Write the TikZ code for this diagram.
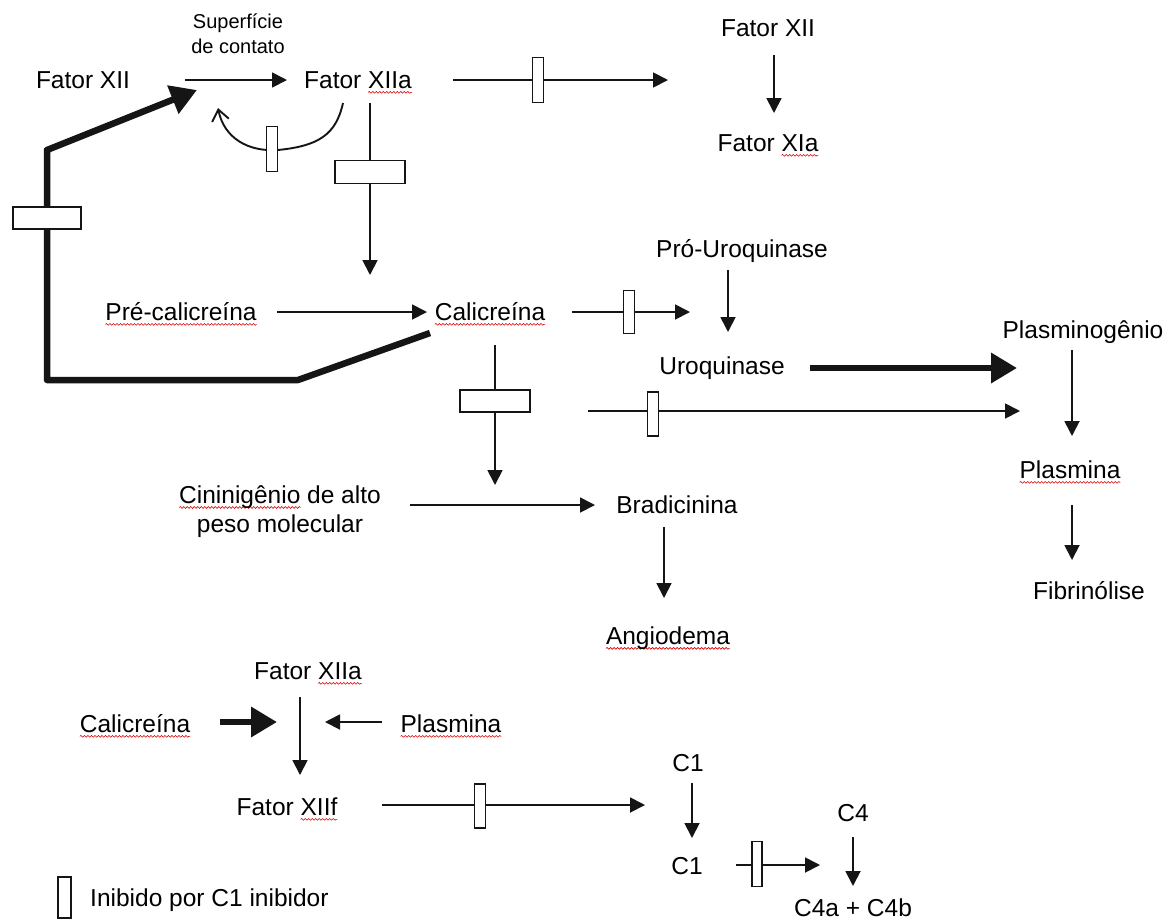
\documentclass[tikz,border=0pt]{standalone}
\usepackage{fontspec}
\setmainfont{Liberation Sans}
\usetikzlibrary{arrows.meta,decorations.pathmorphing}
\definecolor{ink}{HTML}{151515}
\newlength\wavylen
\newcommand{\wavy}[1]{\settowidth\wavylen{#1}\tikz[overlay,baseline=0pt]\draw[red!85!black,line width=0.6pt,decorate,decoration={snake,amplitude=0.9pt,segment length=3.5pt}] (0pt,-3.6pt) -- (\wavylen,-3.6pt);#1}
\tikzset{
  lbl/.style={inner sep=0pt, text height=17.5pt, text depth=0pt},
  arr/.style={draw=ink, line width=1.8pt, -{Triangle[length=15pt,width=15pt]}},
  thickarr/.style={draw=ink, line width=6.5pt, line join=round, -{Triangle[length=26pt,width=29pt]}},
  ln/.style={draw=ink, line width=1.9pt},
  inhv/.style={draw=ink, fill=white, line width=1.4pt, minimum width=11pt, minimum height=45pt, inner sep=0pt},
  inhh/.style={draw=ink, fill=white, line width=1.4pt, minimum width=70pt, minimum height=23pt, inner sep=0pt},
}
\begin{document}
\begin{tikzpicture}[x=1pt,y=-1pt,font=\fontsize{24.5}{29}\selectfont]
\useasboundingbox (0,0) rectangle (1175,922);
\fill[white] (0,0) rectangle (1175,922);

% ---------- text nodes ----------
\node[lbl] (fxii) at (83,80) {Fator XII};
\node[lbl] (fxiia) at (358,80) {Fator \wavy{XIIa}};
\node[align=center, inner sep=0pt, font=\fontsize{20}{25}\selectfont] (sup) at (238,34) {Superfície\\de contato};
\node[lbl] (fxii2) at (768,28) {Fator XII};
\node[lbl] (fxia) at (768,143) {Fator \wavy{XIa}};
\node[lbl] (pre) at (181,312) {\wavy{Pré-calicreína}};
\node[lbl] (cal) at (490,312) {\wavy{Calicreína}};
\node[lbl] (pro) at (742,249) {Pró-Uroquinase};
\node[lbl] (uro) at (722,366) {Uroquinase};
\node[lbl] (plg) at (1083,330) {Plasminogênio};
\node[lbl] (pla) at (1070,470) {\wavy{Plasmina}};
\node[lbl] (fib) at (1089,591) {Fibrinólise};
\node[align=center, inner sep=0pt] (cin) at (280,512) {\wavy{Cininigênio} de alto\\peso molecular};
\node[lbl] (bra) at (677,505) {Bradicinina};
\node[lbl] (ang) at (668,636) {\wavy{Angiodema}};
\node[lbl] (fxiia2) at (308,671) {Fator \wavy{XIIa}};
\node[lbl] (cal2) at (135,724) {\wavy{Calicreína}};
\node[lbl] (pla2) at (451,724) {\wavy{Plasmina}};
\node[lbl] (fxiif) at (287,807) {Fator \wavy{XIIf}};
\node[lbl] (c1a) at (688,763) {C1};
\node[lbl] (c1b) at (687,866) {C1};
\node[lbl] (c4) at (853,813) {C4};
\node[lbl] (c4ab) at (853,908) {C4a + C4b};
\node[lbl, anchor=west] (leg) at (90,898) {Inibido por C1 inibidor};

% ---------- connector ends ----------
\coordinate (a1s) at (185,80);   \coordinate (a1e) at (287,80);
\coordinate (a2s) at (343,103);  \coordinate (a2m) at (278,150); \coordinate (a2e) at (218,108);
\coordinate (a3s) at (370,103);  \coordinate (a3e) at (370,275);
\coordinate (a4s) at (453,80);   \coordinate (a4e) at (668,80);
\coordinate (a5s) at (774,55);   \coordinate (a5e) at (774,113);
\coordinate (t1) at (430,333); \coordinate (t2) at (298,380); \coordinate (t3) at (47,380);
\coordinate (t4) at (47,150); \coordinate (t5) at (197,90);
\coordinate (a7s) at (277,312);  \coordinate (a7e) at (427,312);
\coordinate (a8s) at (572,312);  \coordinate (a8e) at (690,312);
\coordinate (a9s) at (728,270);  \coordinate (a9e) at (728,332);
\coordinate (a10s) at (810,368); \coordinate (a10e) at (1017,368);
\coordinate (a11s) at (1072,350); \coordinate (a11e) at (1072,436);
\coordinate (a12s) at (1072,505); \coordinate (a12e) at (1072,560);
\coordinate (a13s) at (495,345); \coordinate (a13e) at (495,485);
\coordinate (a14s) at (588,411); \coordinate (a14e) at (1020,411);
\coordinate (a15s) at (410,505); \coordinate (a15e) at (595,505);
\coordinate (a16s) at (664,527); \coordinate (a16e) at (664,598);
\coordinate (a17s) at (300,697); \coordinate (a17e) at (300,775);
\coordinate (a18s) at (220,722); \coordinate (a18e) at (277,722);
\coordinate (a19s) at (382,722); \coordinate (a19e) at (325,722);
\coordinate (a20s) at (382,805); \coordinate (a20e) at (645,805);
\coordinate (a21s) at (692,783); \coordinate (a21e) at (692,838);
\coordinate (a22s) at (736,865); \coordinate (a22e) at (820,865);
\coordinate (a23s) at (853,837); \coordinate (a23e) at (853,886);

% ---------- connectors ----------
\draw[arr] (a1s) -- (a1e);
\draw[ln, -{Straight Barb[length=11pt,width=17pt,line width=1.9pt]}] (a2s) .. controls (336,135) and (318,146) .. (a2m) .. controls (248,152) and (224,138) .. (a2e);
\draw[arr] (a3s) -- (a3e);
\draw[arr] (a4s) -- (a4e);
\draw[arr] (a5s) -- (a5e);
\draw[thickarr] (t1) -- (t2) -- (t3) -- (t4) -- (t5);
\draw[arr] (a7s) -- (a7e);
\draw[arr] (a8s) -- (a8e);
\draw[arr] (a9s) -- (a9e);
\draw[thickarr] (a10s) -- (a10e);
\draw[arr] (a11s) -- (a11e);
\draw[arr] (a12s) -- (a12e);
\draw[arr] (a13s) -- (a13e);
\draw[arr] (a14s) -- (a14e);
\draw[arr] (a15s) -- (a15e);
\draw[arr] (a16s) -- (a16e);
\draw[arr] (a17s) -- (a17e);
\draw[thickarr] (a18s) -- (a18e);
\draw[arr] (a19s) -- (a19e);
\draw[arr] (a20s) -- (a20e);
\draw[arr] (a21s) -- (a21e);
\draw[arr] (a22s) -- (a22e);
\draw[arr] (a23s) -- (a23e);

% ---------- inhibitor marks ----------
\node[inhv] (i1) at (272,149) {};
\node[inhh] (i2) at (370,172) {};
\node[inhv] (i3) at (538,80) {};
\node[inhh, minimum width=68pt, minimum height=22pt] (i4) at (47,218) {};
\node[inhv, minimum height=43pt] (i5) at (629,312) {};
\node[inhh, minimum height=22pt] (i6) at (495,401) {};
\node[inhv, minimum height=44pt] (i7) at (653,414) {};
\node[inhv, minimum height=44pt] (i8) at (480,806) {};
\node[inhv, minimum width=10pt] (i9) at (757,864) {};
\node[inhv, minimum width=13pt, minimum height=41pt] (i10) at (64.5,897.5) {};
\end{tikzpicture}
\end{document}
